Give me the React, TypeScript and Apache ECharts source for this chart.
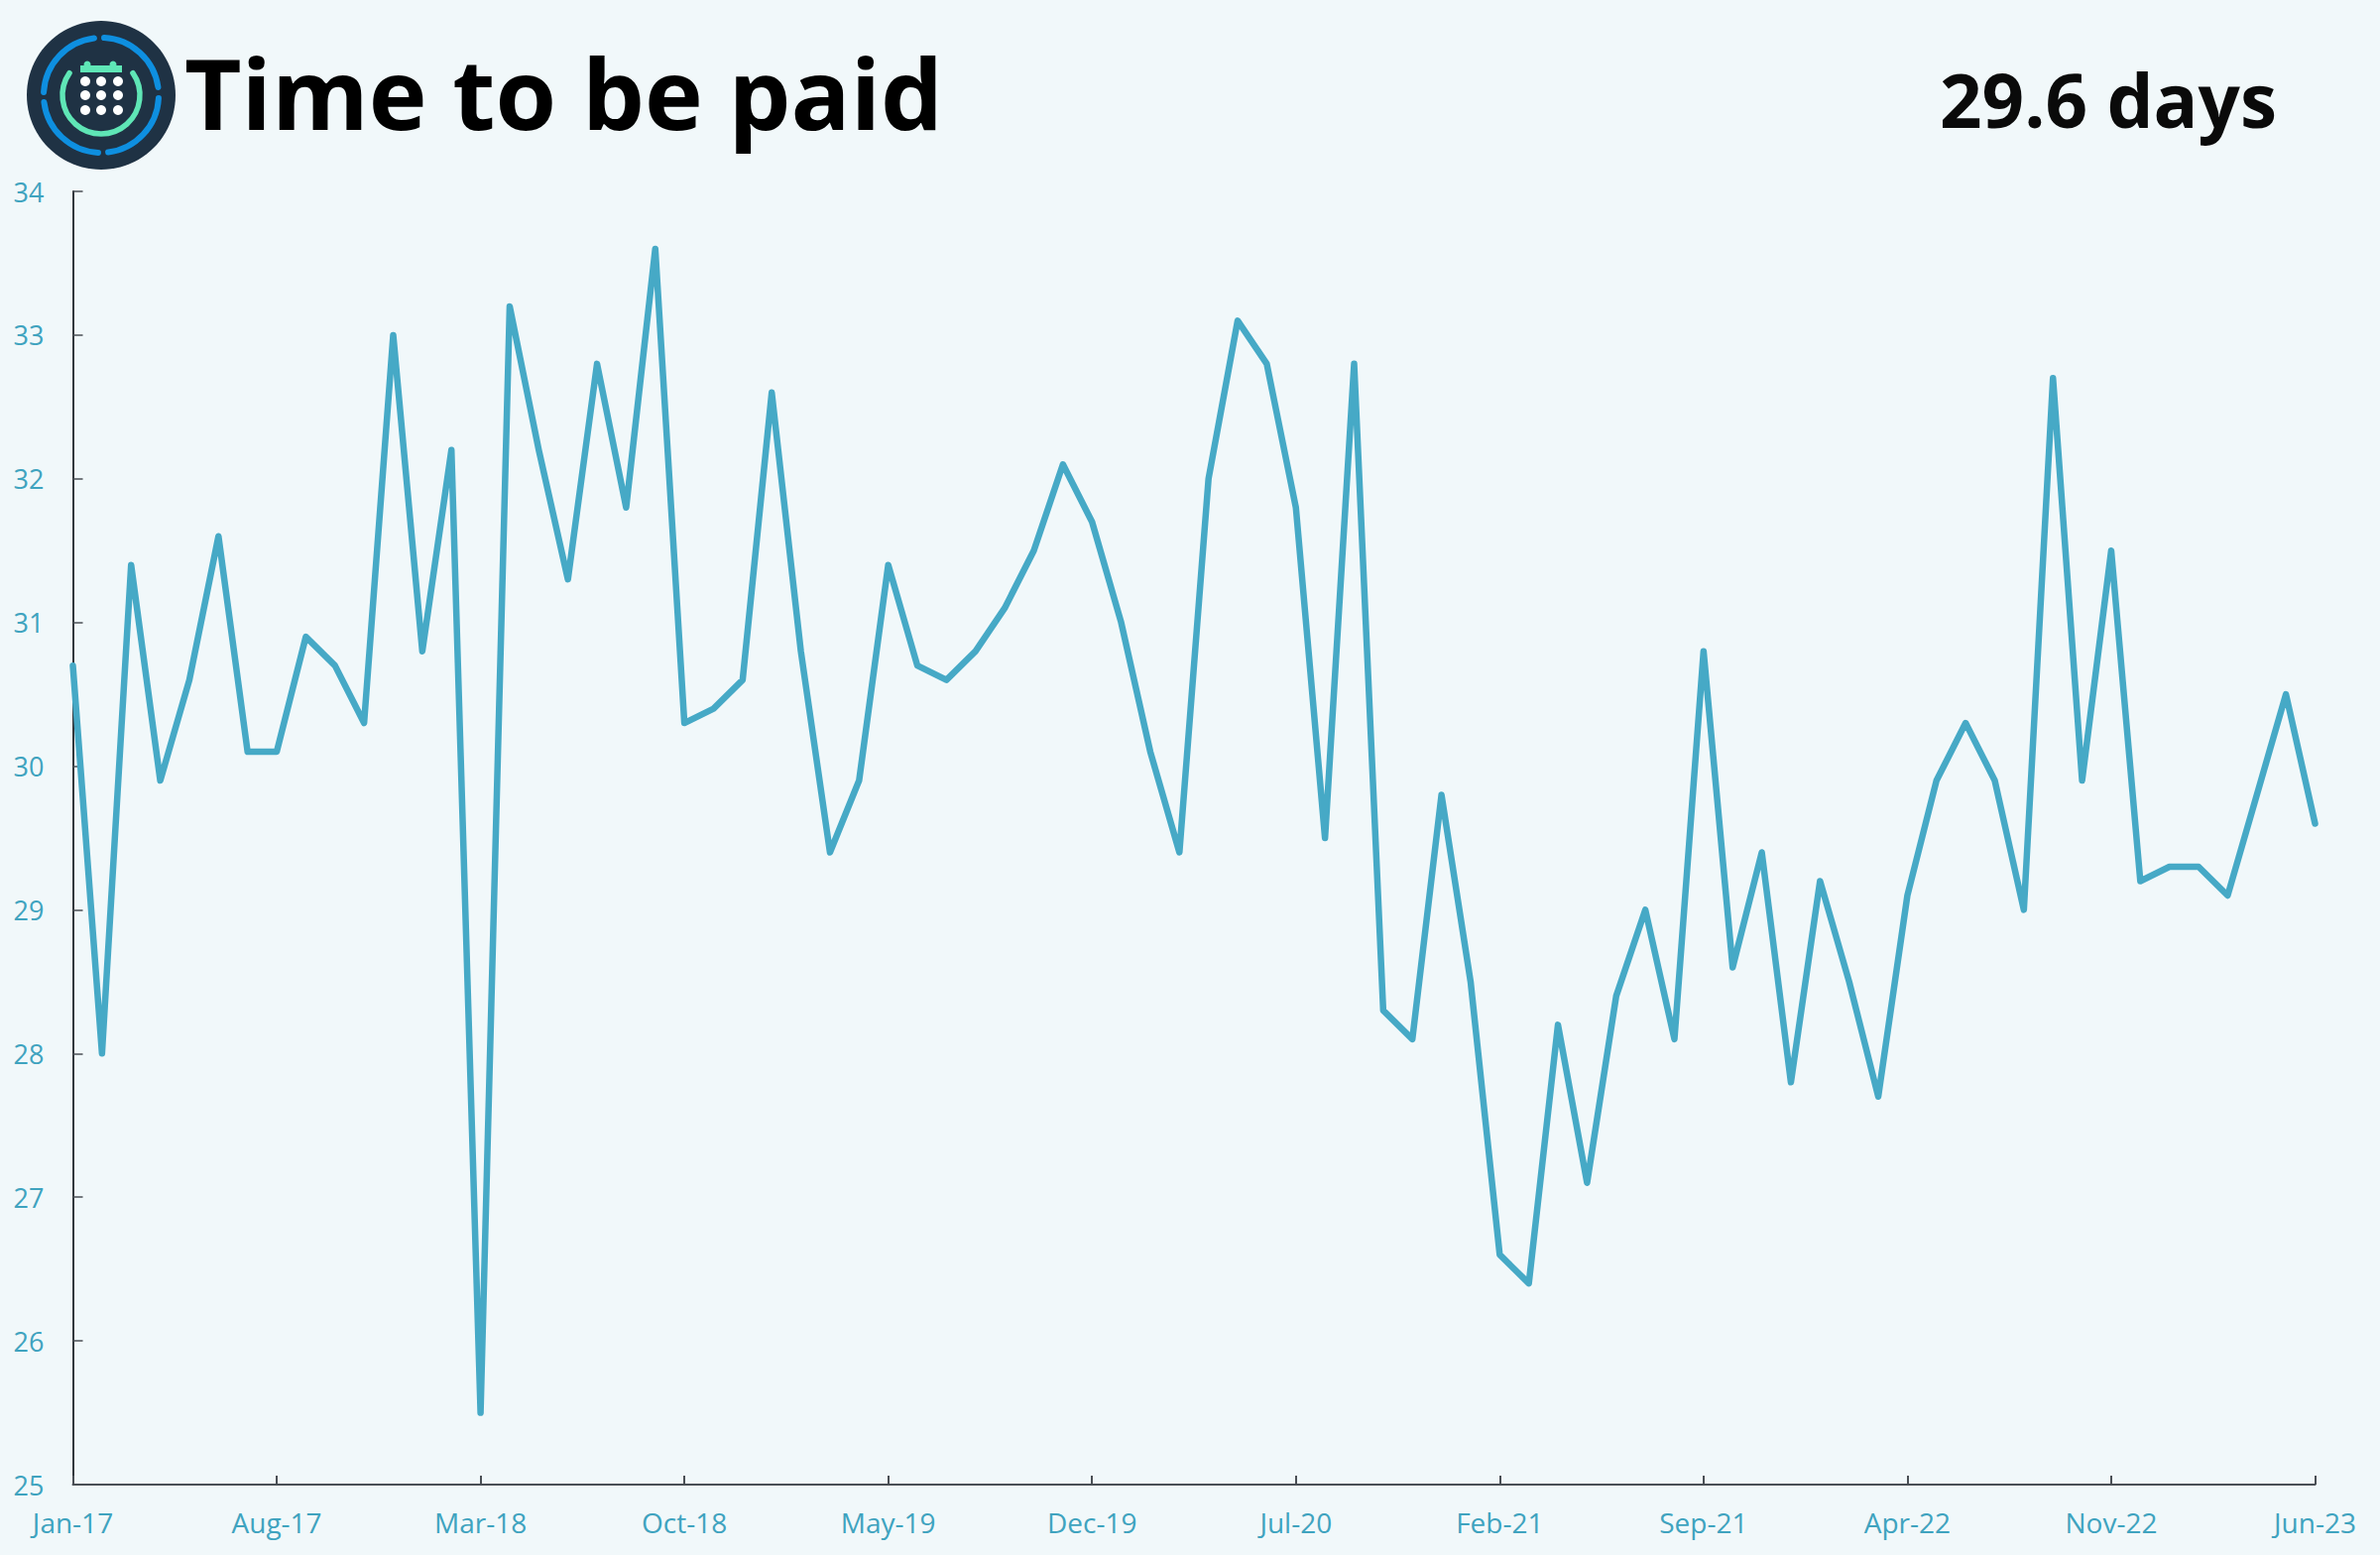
import React, { useEffect, useRef } from "react";
import * as echarts from "echarts";

const MONTH_NAMES = ["Jan", "Feb", "Mar", "Apr", "May", "Jun", "Jul", "Aug", "Sep", "Oct", "Nov", "Dec"];
const YEARS = ["17", "18", "19", "20", "21", "22", "23"];
const categories: string[] = [];
YEARS.forEach((y) => MONTH_NAMES.forEach((m) => categories.push(`${m}-${y}`)));
categories.length = 78;

const daysToPay = [
  30.7, 28.0, 31.4, 29.9, 30.6, 31.6, 30.1, 30.1, 30.9, 30.7, 30.3, 33.0,
  30.8, 32.2, 25.5, 33.2, 32.2, 31.3, 32.8, 31.8, 33.6, 30.3, 30.4, 30.6,
  32.6, 30.8, 29.4, 29.9, 31.4, 30.7, 30.6, 30.8, 31.1, 31.5, 32.1, 31.7,
  31.0, 30.1, 29.4, 32.0, 33.1, 32.8, 31.8, 29.5, 32.8, 28.3, 28.1, 29.8,
  28.5, 26.6, 26.4, 28.2, 27.1, 28.4, 29.0, 28.1, 30.8, 28.6, 29.4, 27.8,
  29.2, 28.5, 27.7, 29.1, 29.9, 30.3, 29.9, 29.0, 32.7, 29.9, 31.5, 29.2,
  29.3, 29.3, 29.1, 29.8, 30.5, 29.6,
];

const TITLE = "Time to be paid";
const KPI = "29.6 days";
const FONT = "'Open Sans', 'Noto Sans', sans-serif";
const TEAL = "#46A9C6";
const LABEL = "#3FA3BF";
const BG = "#F1F8FA";

const CX = 102;
const CY = 96;
const D2R = Math.PI / 180;

function arcEl(r: number, from: number, to: number, color: string, w: number) {
  return {
    type: "arc",
    shape: { cx: CX, cy: CY, r, startAngle: from * D2R, endAngle: to * D2R, clockwise: true },
    style: { fill: "none", stroke: color, lineWidth: w, lineCap: "round" },
    silent: true,
  };
}

function logo() {
  const els: any[] = [
    { type: "circle", shape: { cx: CX, cy: CY, r: 75 }, style: { fill: "#1F3244" }, silent: true },
    arcEl(58, -87, -8, "#0E8FE0", 6),
    arcEl(58, 3, 83, "#0E8FE0", 6),
    arcEl(58, 93, 173, "#0E8FE0", 6),
    arcEl(58, 183, 263, "#0E8FE0", 6),
    arcEl(39, -35, 215, "#5FE6B6", 5.5),
    { type: "rect", shape: { x: 81, y: 66, width: 42, height: 7 }, style: { fill: "#5FE6B6" }, silent: true },
    { type: "circle", shape: { cx: 88, cy: 65, r: 3.5 }, style: { fill: "#5FE6B6" }, silent: true },
    { type: "circle", shape: { cx: 114, cy: 65, r: 3.5 }, style: { fill: "#5FE6B6" }, silent: true },
  ];
  [86, 102, 119].forEach((x) =>
    [82, 96, 111].forEach((y) =>
      els.push({ type: "circle", shape: { cx: x, cy: y, r: 5 }, style: { fill: "#FFFFFF" }, silent: true })
    )
  );
  return els;
}

export default function App() {
  const ref = useRef<HTMLDivElement>(null);
  useEffect(() => {
    document.body.style.margin = "0";
    document.body.style.background = BG;
    const chart = echarts.init(ref.current!, undefined, { renderer: "svg" });
    chart.setOption({
      animation: false,
      backgroundColor: BG,
      grid: { left: 73.5, right: 65.5, top: 193, bottom: 71, containLabel: false },
      xAxis: {
        type: "category",
        data: categories,
        boundaryGap: false,
        axisLine: { show: true, lineStyle: { color: "#4A4F55", width: 2 } },
        axisTick: { show: true, inside: true, length: 9, interval: 6, lineStyle: { color: "#4A4F55", width: 2 } },
        axisLabel: { interval: 6, color: LABEL, fontFamily: FONT, fontSize: 28, margin: 24, showMinLabel: true, showMaxLabel: true },
        splitLine: { show: false },
      },
      yAxis: {
        type: "value",
        min: 25,
        max: 34,
        interval: 1,
        axisLine: { show: true, lineStyle: { color: "#33383D", width: 2 } },
        axisTick: { show: true, inside: true, length: 10, lineStyle: { color: "#4A4F55", width: 1.5 } },
        axisLabel: { color: LABEL, fontFamily: FONT, fontSize: 27, margin: 29 },
        splitLine: { show: false },
      },
      series: [
        {
          type: "line",
          data: daysToPay,
          showSymbol: false,
          symbol: "none",
          smooth: false,
          clip: true,
          lineStyle: { color: TEAL, width: 6.5, cap: "round", join: "round" },
        },
      ],
      graphic: [
        ...logo(),
        {
          type: "text",
          x: 186,
          y: 42,
          style: { text: TITLE, fill: "#000000", font: `700 99.5px ${FONT}`, align: "left", verticalAlign: "top" },
          silent: true,
        },
        {
          type: "text",
          x: 1956,
          y: 62,
          style: { text: KPI, fill: "#0A0A0A", font: `700 74.5px ${FONT}`, align: "left", verticalAlign: "top" },
          silent: true,
        },
      ],
    });
    return () => chart.dispose();
  }, []);
  return <div ref={ref} style={{ width: 2400, height: 1568 }} />;
}
